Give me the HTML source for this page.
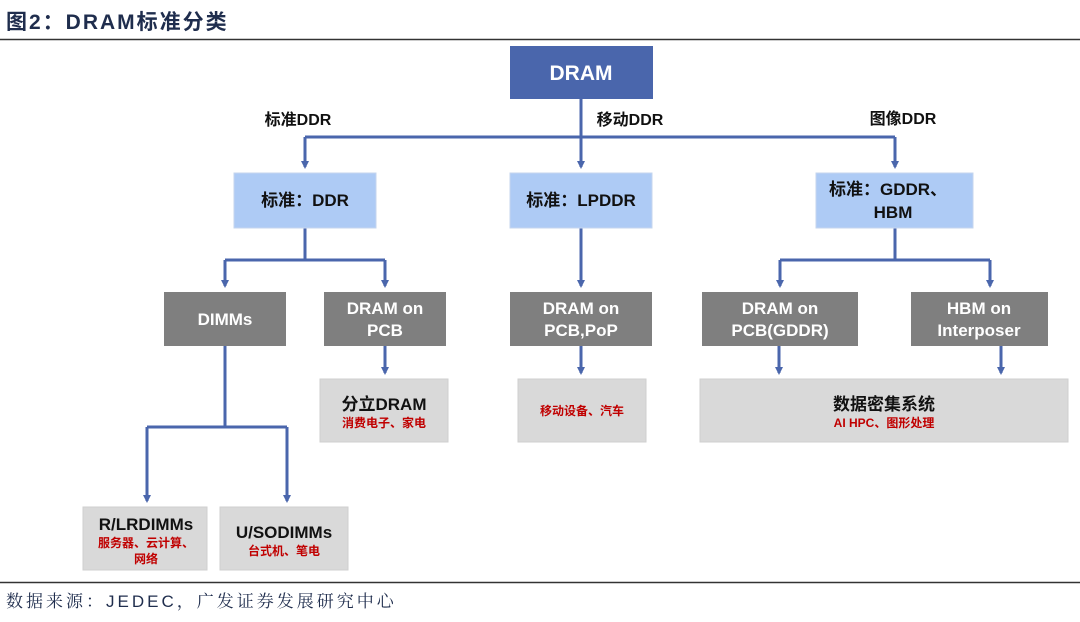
<!DOCTYPE html>
<html><head><meta charset="utf-8"><style>
body{margin:0;width:1080px;height:622px;background:#fff;overflow:hidden;font-family:"Liberation Sans","Noto Sans CJK SC",sans-serif}
svg{display:block}
</style></head><body>
<svg width="1080" height="622" viewBox="0 0 1080 622" xmlns="http://www.w3.org/2000/svg" font-family="Liberation Sans, Noto Sans CJK SC, sans-serif">
<defs><marker id="a" markerWidth="10" markerHeight="10" refX="6" refY="4" orient="auto" markerUnits="userSpaceOnUse"><path d="M0,0 L8,4 L0,8 Z" fill="#4a66ac"/></marker></defs>
<text x="6" y="29" font-size="21" font-weight="bold" fill="#1f2d4d" letter-spacing="2">图2：DRAM标准分类</text>
<line x1="0" y1="39.5" x2="1080" y2="39.5" stroke="#333" stroke-width="1.5"/>
<line x1="0" y1="582.5" x2="1080" y2="582.5" stroke="#333" stroke-width="1.5"/>
<text x="6" y="607" font-size="17" fill="#1f2d4d" font-family="Liberation Sans, Noto Serif CJK SC, serif" letter-spacing="3">数据来源：JEDEC，广发证券发展研究中心</text>
<g stroke="#4a66ac" stroke-width="3" fill="none">
<path d="M581,99 V137 M305,137 H895"/>
<path d="M305,137 V167" marker-end="url(#a)"/><path d="M581,137 V167" marker-end="url(#a)"/><path d="M895,137 V167" marker-end="url(#a)"/>
<path d="M305,228 V260 M225,260 H385"/>
<path d="M225,260 V286" marker-end="url(#a)"/><path d="M385,260 V286" marker-end="url(#a)"/>
<path d="M581,228 V286" marker-end="url(#a)"/>
<path d="M895,228 V260 M780,260 H990"/>
<path d="M780,260 V286" marker-end="url(#a)"/><path d="M990,260 V286" marker-end="url(#a)"/>
<path d="M385,346 V373" marker-end="url(#a)"/><path d="M581,346 V373" marker-end="url(#a)"/>
<path d="M779,346 V373" marker-end="url(#a)"/><path d="M1001,346 V373" marker-end="url(#a)"/>
<path d="M225,346 V427 M147,427 H287"/>
<path d="M147,427 V501" marker-end="url(#a)"/><path d="M287,427 V501" marker-end="url(#a)"/>
</g>
<rect x="510" y="46" width="143" height="53" fill="#4a66ac"/>
<text x="581" y="80" font-size="21" font-weight="bold" fill="#fff" text-anchor="middle">DRAM</text>
<g font-size="16" font-weight="bold" fill="#111" text-anchor="middle">
<text x="298" y="125">标准DDR</text><text x="630" y="125">移动DDR</text><text x="903" y="124">图像DDR</text>
</g>
<g fill="#aecbf5" stroke="#c5d6ee"><rect x="234" y="173" width="142" height="55"/><rect x="510" y="173" width="142" height="55"/><rect x="816" y="173" width="157" height="55"/></g>
<g font-size="17" font-weight="bold" fill="#111" text-anchor="middle">
<text x="305" y="206">标准：DDR</text><text x="581" y="206">标准：LPDDR</text>
<text x="888" y="195">标准：GDDR、</text><text x="893" y="218">HBM</text>
</g>
<g fill="#7f7f7f"><rect x="164" y="292" width="122" height="54"/><rect x="324" y="292" width="122" height="54"/><rect x="510" y="292" width="142" height="54"/><rect x="702" y="292" width="156" height="54"/><rect x="911" y="292" width="137" height="54"/></g>
<g font-size="17" font-weight="bold" fill="#fff" text-anchor="middle">
<text x="225" y="325">DIMMs</text>
<text x="385" y="314">DRAM on</text><text x="385" y="336">PCB</text>
<text x="581" y="314">DRAM on</text><text x="581" y="336">PCB,PoP</text>
<text x="780" y="314">DRAM on</text><text x="780" y="336">PCB(GDDR)</text>
<text x="979" y="314">HBM on</text><text x="979" y="336">Interposer</text>
</g>
<g fill="#d9d9d9" stroke="#cfcfcf"><rect x="320" y="379" width="128" height="63"/><rect x="518" y="379" width="128" height="63"/><rect x="700" y="379" width="368" height="63"/><rect x="83" y="507" width="124" height="63"/><rect x="220" y="507" width="128" height="63"/></g>
<g text-anchor="middle" font-weight="bold">
<text x="384" y="410" font-size="17" fill="#111">分立DRAM</text>
<text x="384" y="427" font-size="12" fill="#c00000">消费电子、家电</text>
<text x="582" y="415" font-size="12" fill="#c00000">移动设备、汽车</text>
<text x="884" y="410" font-size="17" fill="#111">数据密集系统</text>
<text x="884" y="427" font-size="12" fill="#c00000">AI HPC、图形处理</text>
<text x="146" y="530" font-size="17" fill="#111">R/LRDIMMs</text>
<text x="146" y="547" font-size="12" fill="#c00000">服务器、云计算、</text>
<text x="146" y="563" font-size="12" fill="#c00000">网络</text>
<text x="284" y="538" font-size="17" fill="#111">U/SODIMMs</text>
<text x="284" y="555" font-size="12" fill="#c00000">台式机、笔电</text>
</g>
</svg>
</body></html>
